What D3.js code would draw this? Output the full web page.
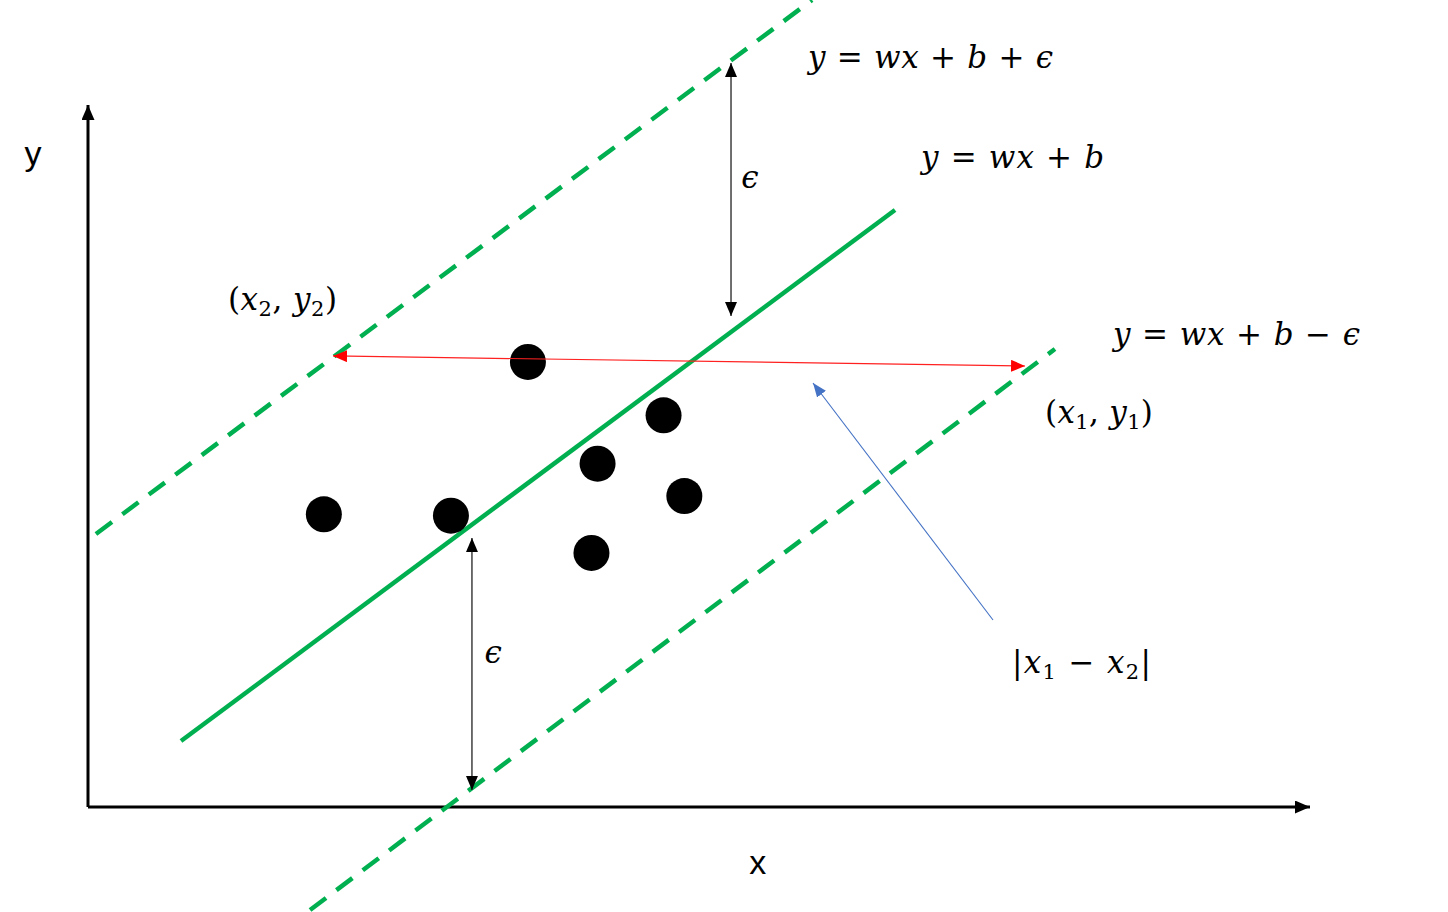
<!DOCTYPE html>
<html><head><meta charset="utf-8">
<script src="https://cdn.jsdelivr.net/npm/d3@7"></script>
<style>
html,body{margin:0;padding:0;background:#fff;}
svg{display:block;}
.m{font-family:"DejaVu Serif",serif;font-size:31px;fill:#000;}
.it{font-style:italic;}
.ax{font-family:"Liberation Sans",Arial,sans-serif;font-size:34px;fill:#000;}
</style></head>
<body>
<svg id="c" width="1448" height="912"></svg>
<script>
// ---- data (abstract units: axes go 0..100) ----
const points = [[19.3,41.7],[29.7,41.5],[36.0,63.4],[41.7,48.9],[47.1,55.8],[48.8,44.3],[41.2,36.2]];
const regressionLine = [[7.61,9.40],[66.04,85.04]];
const upperBound = [[0.65,38.89],[59.25,114.96]];
const lowerBound = [[18.17,-14.67],[79.13,65.24]];
const epsArrowUpper = [[52.62,105.98],[52.62,69.94]];
const epsArrowLower = [[31.42,38.32],[31.42,2.42]];
const distArrow = [[20.05,64.25],[76.68,62.82]];
const pointerArrow = [[74.06,26.64],[59.33,60.40]];
const xAxis = [[0,0],[100,0]];
const yAxis = [[0,0],[0,100]];
// labels: parts: [text, style] style: i=italic, n=normal, s=subscript
const mathLabels = [
  {parts:[["y","i"],[" = ","n"],["wx","i"],[" + ","n"],["b","i"],[" + ","n"],["ϵ","i"]], x:58.92, y:105.27, w:245},
  {parts:[["y","i"],[" = ","n"],["wx","i"],[" + ","n"],["b","i"]], x:68.17, y:91.03, w:183},
  {parts:[["y","i"],[" = ","n"],["wx","i"],[" + ","n"],["b","i"],[" − ","n"],["ϵ","i"]], x:83.88, y:65.81, w:247},
  {parts:[["(","n"],["x","i"],["2","s"],[", ","n"],["y","i"],["2","s"],[")","n"]], x:11.46, y:70.80, w:109},
  {parts:[["(","n"],["x","i"],["1","s"],[", ","n"],["y","i"],["1","s"],[")","n"]], x:78.31, y:54.70, w:108},
  {parts:[["|","n"],["x","i"],["1","s"],[" − ","n"],["x","i"],["2","s"],["|","n"]], x:75.61, y:19.09, w:139},
  {parts:[["ϵ","i"]], x:53.45, y:88.18, w:0},
  {parts:[["ϵ","i"]], x:32.45, y:20.51, w:0}
];
const axisLabels = [{t:"y", x:-4.5, y:91.5},{t:"x", x:54.8, y:-9.6}];

const xs = d3.scaleLinear().domain([0,100]).range([88,1310]);
const ys = d3.scaleLinear().domain([0,100]).range([807,105]);
const svg = d3.select("#c");
const line = d3.line().x(d=>xs(d[0])).y(d=>ys(d[1]));

const defs = svg.append("defs");
function marker(id,color,len,wid){
  defs.append("marker").attr("id",id).attr("markerUnits","userSpaceOnUse")
    .attr("viewBox",`0 0 ${len} ${wid}`).attr("refX",len).attr("refY",wid/2)
    .attr("markerWidth",len).attr("markerHeight",wid).attr("orient","auto-start-reverse")
    .append("path").attr("d",`M0,0L${len},${wid/2}L0,${wid}Z`).attr("fill",color);
}
marker("axArrow","#000",15,13);
marker("bk","#000",14,12);
marker("rd","#ff0000",14,12);
marker("bl","#4472c4",14,11);

// axes
svg.append("path").attr("d",line(xAxis)).attr("stroke","#000").attr("stroke-width",3).attr("fill","none").attr("marker-end","url(#axArrow)");
svg.append("path").attr("d",line(yAxis)).attr("stroke","#000").attr("stroke-width",3).attr("fill","none").attr("marker-end","url(#axArrow)");

// lines
const green="#00b050";
svg.append("path").attr("d",line(upperBound)).attr("stroke",green).attr("stroke-width",4.5).attr("stroke-dasharray","20,13").attr("fill","none");
svg.append("path").attr("d",line(lowerBound)).attr("stroke",green).attr("stroke-width",4.5).attr("stroke-dasharray","20,13").attr("fill","none");
svg.append("path").attr("d",line(regressionLine)).attr("stroke",green).attr("stroke-width",4.5).attr("fill","none");

// points
svg.append("g").selectAll("circle").data(points).join("circle")
  .attr("cx",d=>xs(d[0])).attr("cy",d=>ys(d[1])).attr("r",18).attr("fill","#000");

// arrows
[epsArrowUpper,epsArrowLower].forEach(a=>{
  svg.append("path").attr("d",line(a)).attr("stroke","#222").attr("stroke-width",1.3).attr("fill","none")
    .attr("marker-start","url(#bk)").attr("marker-end","url(#bk)");
});
svg.append("path").attr("d",line(distArrow)).attr("stroke","#ff2020").attr("stroke-width",1.2).attr("fill","none")
  .attr("marker-start","url(#rd)").attr("marker-end","url(#rd)");
svg.append("path").attr("d",line(pointerArrow)).attr("stroke","#4472c4").attr("stroke-width",1.1).attr("fill","none")
  .attr("marker-end","url(#bl)");

// math labels
mathLabels.forEach(l=>{
  const t = svg.append("text").attr("class","m").attr("x",xs(l.x)).attr("y",ys(l.y)).attr("xml:space","preserve");
  l.parts.forEach(p=>{
    const s = t.append("tspan").text(p[0]);
    if(p[1]==="i") s.attr("class","it");
    if(p[1]==="s") s.attr("font-size","21px").attr("baseline-shift","-6");
  });
  if(l.w>0) t.attr("textLength",l.w).attr("lengthAdjust","spacing");
});
axisLabels.forEach(l=>{
  svg.append("text").attr("class","ax").attr("x",xs(l.x)).attr("y",ys(l.y)).attr("text-anchor","middle").text(l.t);
});
</script>
</body></html>
